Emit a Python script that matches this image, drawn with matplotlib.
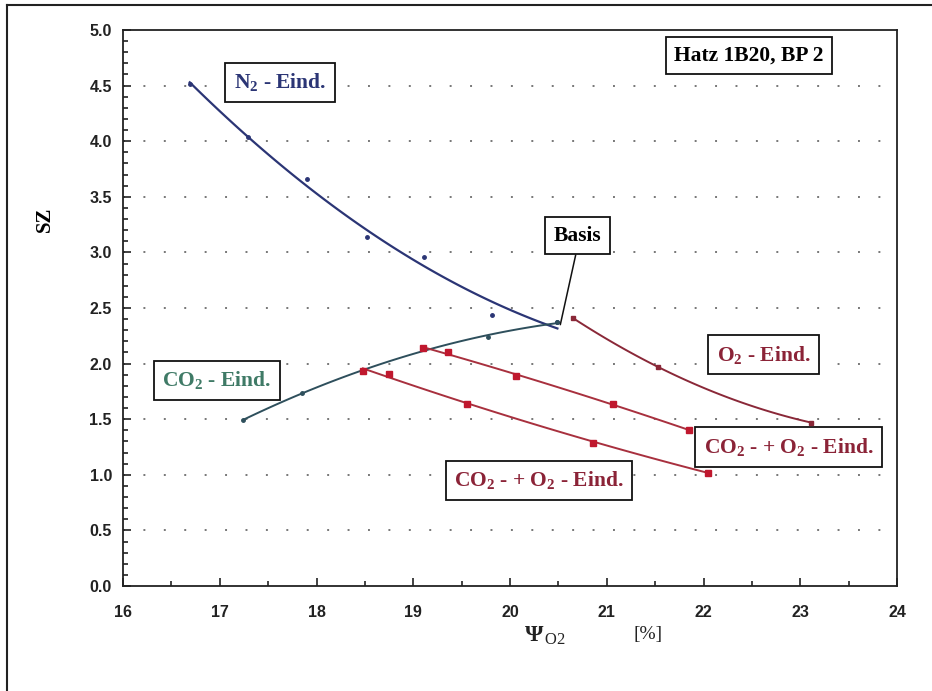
import numpy as np
import matplotlib
matplotlib.use('Agg')
import matplotlib.pyplot as plt
from matplotlib.lines import Line2D
from matplotlib.ticker import MultipleLocator

plt.rcParams['font.family'] = ['Liberation Sans', 'DejaVu Sans']
plt.rcParams['mathtext.fontset'] = 'custom'
plt.rcParams['mathtext.rm'] = 'Liberation Serif'
plt.rcParams['mathtext.it'] = 'Liberation Serif:italic'
plt.rcParams['mathtext.bf'] = 'Liberation Serif:bold'

n2_x = [16.69, 17.29, 17.90, 18.52, 19.11, 19.81, 20.49]
n2_y = [4.51, 4.04, 3.66, 3.14, 2.96, 2.44, 2.37]

co2_x = [17.24, 17.85, 18.48, 19.10, 19.77, 20.49]
co2_y = [1.49, 1.74, 1.93, 2.13, 2.24, 2.37]

o2_x = [20.65, 21.53, 23.11]
o2_y = [2.41, 1.97, 1.47]

mix1_x = [19.10, 19.36, 20.06, 21.06, 21.85]
mix1_y = [2.14, 2.10, 1.89, 1.64, 1.40]

mix2_x = [18.48, 18.75, 19.56, 20.86, 22.05]
mix2_y = [1.93, 1.91, 1.64, 1.29, 1.02]

basis_xy = (20.52, 2.35)

c_n2 = '#2b3575'
c_co2 = '#2e4f5c'
c_co2_txt = '#3f7a66'
c_o2 = '#8a2838'
c_mix = '#a8303e'
c_sq = '#c0182e'
c_red_txt = '#8b2337'

fig = plt.figure(figsize=(9.32, 6.91), dpi=100)
ax = fig.add_axes([123 / 932, 1 - 586 / 691, (897 - 123) / 932, (586 - 30) / 691])


def trend(xs, ys, deg=2):
    # Trendlinie wie im Original (Polynom)
    p = np.polyfit(xs, ys, deg)
    xx = np.linspace(min(xs), max(xs), 100)
    return xx, np.polyval(p, xx)


ax.plot(*trend(n2_x, n2_y), color=c_n2, lw=1.6, zorder=3)
ax.plot(n2_x, n2_y, 'o', color=c_n2, ms=2.5, zorder=4)

ax.plot(*trend(co2_x, co2_y), color=c_co2, lw=1.4, zorder=3)
ax.plot(co2_x, co2_y, 'o', color=c_co2, ms=2.5, zorder=4)

ax.plot(*trend(o2_x, o2_y), color=c_o2, lw=1.4, zorder=3)
ax.plot(o2_x, o2_y, 's', color=c_o2, ms=3.5, zorder=7)

ax.plot(*trend(mix1_x, mix1_y), color=c_mix, lw=1.4, zorder=3)
ax.plot(mix1_x, mix1_y, 's', color=c_sq, ms=5, zorder=4)

ax.plot(*trend(mix2_x, mix2_y), color=c_mix, lw=1.4, zorder=3)
ax.plot(mix2_x, mix2_y, 's', color=c_sq, ms=5, zorder=4)

ax.set_xlim(16, 24)
ax.set_ylim(0, 5)
ax.xaxis.set_major_locator(MultipleLocator(1))
ax.xaxis.set_minor_locator(MultipleLocator(0.5))
ax.yaxis.set_major_locator(MultipleLocator(0.5))
ax.yaxis.set_minor_locator(MultipleLocator(0.1))
ax.yaxis.set_major_formatter(matplotlib.ticker.FormatStrFormatter('%.1f'))
ax.tick_params(which='both', direction='in', top=False, right=False, width=1.2, color='#222222')
ax.tick_params(which='major', length=6, labelsize=11.5, pad=8)
ax.tick_params(which='minor', length=3.5)
ax.tick_params(axis='x', which='major', pad=14)
for lab in ax.get_xticklabels() + ax.get_yticklabels():
    lab.set_fontweight('bold')
    lab.set_color('#222222')
for s in ax.spines.values():
    s.set_linewidth(1.3)
    s.set_color('#222222')

for yv in np.arange(0.5, 5.0, 0.5):
    ax.axhline(yv, color='#777777', lw=1.4, dashes=(1.0, 9.5), zorder=1)

ax.set_ylabel('SZ', fontsize=15, fontweight='bold', family='Liberation Serif')
ax.yaxis.set_label_coords(-0.088, 0.66)

box = dict(boxstyle='square,pad=0.4', fc='white', ec='#111111', lw=1.3)
serif = 'Liberation Serif'
fs = 15.5
ax.text(22.47, 4.77, 'Hatz 1B20, BP 2', fontsize=fs, fontweight='bold', family=serif,
        ha='center', va='center', bbox=box, zorder=6)
ax.text(17.62, 4.53, r'N$_{\mathbf{2}}$ - Eind.', fontsize=fs, fontweight='bold', family=serif,
        color=c_n2, ha='center', va='center', bbox=box, zorder=6)
ax.text(16.97, 1.85, r'CO$_{\mathbf{2}}$ - Eind.', fontsize=fs, fontweight='bold', family=serif,
        color=c_co2_txt, ha='center', va='center', bbox=box, zorder=6)
ax.text(22.62, 2.08, r'O$_{\mathbf{2}}$ - Eind.', fontsize=fs, fontweight='bold', family=serif,
        color=c_red_txt, ha='center', va='center', bbox=box, zorder=6)
ax.text(22.88, 1.25, r'CO$_{\mathbf{2}}$ - + O$_{\mathbf{2}}$ - Eind.', fontsize=fs, fontweight='bold',
        family=serif, color=c_red_txt, ha='center', va='center', bbox=box, zorder=6)
ax.text(20.30, 0.95, r'CO$_{\mathbf{2}}$ - + O$_{\mathbf{2}}$ - Eind.', fontsize=fs, fontweight='bold',
        family=serif, color=c_red_txt, ha='center', va='center', bbox=box, zorder=6)
ax.annotate('Basis', xy=basis_xy, xytext=(20.70, 3.15), fontsize=fs, fontweight='bold', family=serif,
            ha='center', va='center', bbox=box, zorder=6,
            arrowprops=dict(arrowstyle='-', lw=1.1, color='#111111', relpos=(0.5, 0.0),
                            shrinkA=0, shrinkB=0))

# x-Achsenbeschriftung
fig.text(545 / 932, 1 - 636 / 691, r'$\mathbf{\Psi}_{\,\mathrm{O2}}$', fontsize=17, ha='center',
         va='center', color='#222222')
fig.text(648 / 932, 1 - 634 / 691, '[%]', fontsize=14, family=serif, ha='center', va='center',
         color='#222222')

# Rahmen
fig.add_artist(Line2D([7 / 932, 7 / 932], [1 - 5 / 691, 0], color='#222222', lw=1.5))
fig.add_artist(Line2D([7 / 932, 1], [1 - 5 / 691, 1 - 5 / 691], color='#222222', lw=1.5))

fig.savefig('out.png', dpi=100)
